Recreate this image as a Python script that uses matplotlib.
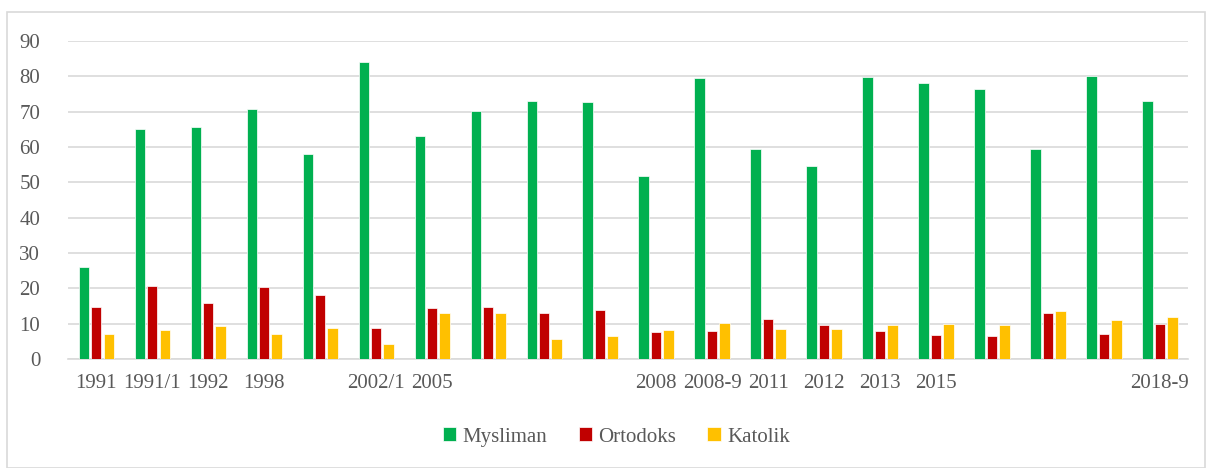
import matplotlib.pyplot as plt
import numpy as np
from matplotlib.patches import Rectangle

plt.rcParams['font.family'] = ['Liberation Serif', 'DejaVu Serif']

years = ["1991", "1991/1", "1992", "1998", "", "2002/1", "2005", "", "", "",
         "2008", "2008-9", "2011", "2012", "2013", "2015", "", "", "", "2018-9"]
mysliman = [25.9, 65.0, 65.8, 70.7, 57.9, 84.0, 63.2, 70.1, 73.0, 72.7,
            51.9, 79.5, 59.3, 54.7, 79.8, 78.0, 76.4, 59.5, 80.2, 73.0]
ortodoks = [14.7, 20.7, 15.8, 20.4, 18.0, 8.8, 14.5, 14.6, 12.9, 13.9,
            7.7, 7.8, 11.4, 9.5, 8.0, 6.9, 6.4, 12.9, 7.1, 9.9]
katolik = [7.0, 8.2, 9.3, 7.1, 8.8, 4.3, 12.9, 13.0, 5.8, 6.5,
           8.3, 10.3, 8.6, 8.5, 9.5, 9.8, 9.5, 13.7, 10.9, 11.9]

txt = '#595959'
grid = '#d9d9d9'

fig = plt.figure(figsize=(12.11, 4.68), dpi=100)
ax = fig.add_axes([0.0562, 0.2329, 0.9248, 0.6795])

x = np.arange(len(years))
w = 0.18
step = 0.223
ax.bar(x - step, mysliman, w, color='#00B050', edgecolor='white', linewidth=0.5, label='Mysliman', zorder=3)
ax.bar(x, ortodoks, w, color='#C00000', edgecolor='white', linewidth=0.5, label='Ortodoks', zorder=3)
ax.bar(x + step, katolik, w, color='#FFC000', edgecolor='white', linewidth=0.5, label='Katolik', zorder=3)

ax.set_xlim(-0.5, len(years) - 0.5)
ax.set_ylim(0, 90)
ax.set_yticks(range(0, 91, 10))
ax.set_xticks(x)
ax.set_xticklabels(years)
ax.yaxis.grid(True, color=grid, linewidth=1.2, zorder=0)
ax.set_axisbelow(True)
for s in ['left', 'right', 'top']:
    ax.spines[s].set_visible(False)
ax.spines['bottom'].set_color(grid)
ax.spines['bottom'].set_linewidth(1.2)
ax.tick_params(axis='both', length=0, labelsize=15, labelcolor=txt)
ax.tick_params(axis='y', pad=20)
ax.tick_params(axis='x', pad=11)

fig.legend(loc='center', bbox_to_anchor=(0.509, 0.066), ncol=3, frameon=False,
           fontsize=15, labelcolor=txt, handlelength=0.65, handleheight=0.65,
           handletextpad=0.3, columnspacing=1.5)

fig.add_artist(Rectangle((0.006, 0.0), 0.989, 0.974, transform=fig.transFigure,
                         fill=False, edgecolor='#d9d9d9', linewidth=1.2))

fig.savefig('out.png', dpi=100)
